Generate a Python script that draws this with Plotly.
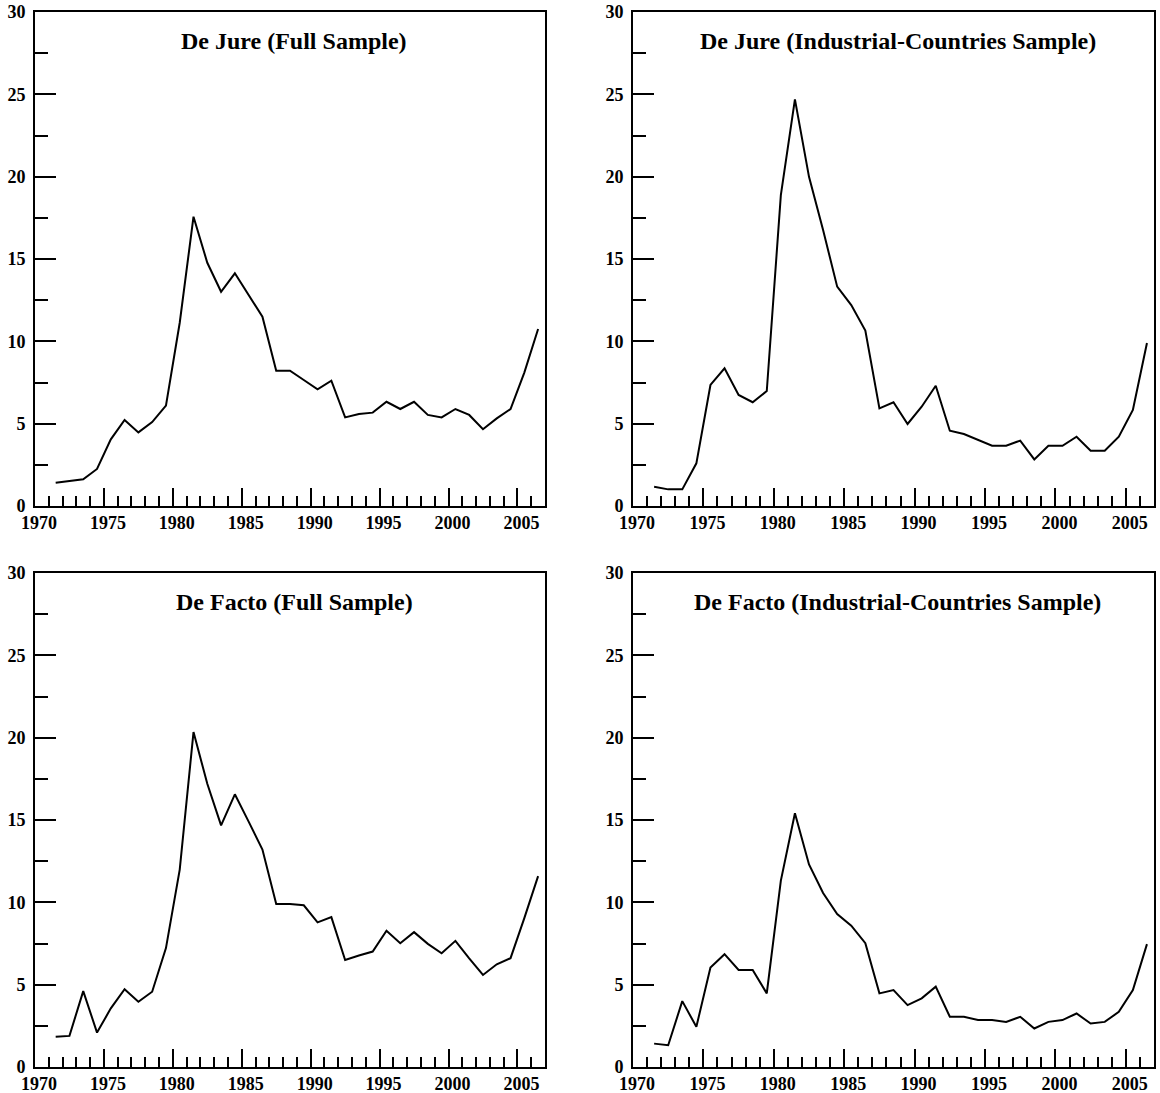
import plotly.graph_objects as go

years = list(range(1971, 2007))

dejure_full = [1.41, 1.50, 1.62, 2.25, 4.05, 5.22, 4.47, 5.10, 6.10, 11.13,
               17.57, 14.77, 13.01, 14.13, 12.81, 11.50, 8.22, 8.22, 7.65, 7.08,
               7.61, 5.38, 5.59, 5.67, 6.33, 5.89, 6.33, 5.53, 5.38, 5.89,
               5.53, 4.66, 5.32, 5.89, 8.10, 10.75]

dejure_ind = [1.17, 1.01, 1.01, 2.59, 7.35, 8.36, 6.74, 6.30, 6.98, 18.88,
              24.69, 19.99, 16.76, 13.32, 12.20, 10.65, 5.93, 6.30, 4.98, 6.03,
              7.30, 4.57, 4.37, 4.00, 3.66, 3.66, 3.97, 2.83, 3.66, 3.66,
              4.21, 3.36, 3.36, 4.21, 5.83, 9.90]

defacto_full = [1.83, 1.89, 4.61, 2.09, 3.56, 4.72, 3.96, 4.57, 7.22, 11.99,
                20.34, 17.20, 14.67, 16.56, 14.90, 13.21, 9.90, 9.90, 9.82, 8.78,
                9.10, 6.50, 6.77, 7.01, 8.27, 7.52, 8.19, 7.48, 6.91, 7.66,
                6.60, 5.59, 6.24, 6.61, 9.04, 11.59]

defacto_ind = [1.42, 1.32, 4.00, 2.44, 6.04, 6.85, 5.89, 5.89, 4.47, 11.32,
               15.41, 12.30, 10.57, 9.29, 8.58, 7.52, 4.47, 4.67, 3.76, 4.17,
               4.88, 3.05, 3.05, 2.85, 2.85, 2.74, 3.05, 2.34, 2.74, 2.85,
               3.25, 2.64, 2.74, 3.35, 4.67, 7.46]

titles = ["De Jure (Full Sample)",
          "De Jure (Industrial-Countries Sample)",
          "De Facto (Full Sample)",
          "De Facto (Industrial-Countries Sample)"]

series = [dejure_full, dejure_ind, defacto_full, defacto_ind]

W, H = 1160, 1093
# panel pixel boxes (left, right, top, bottom)
boxes = [(35, 545, 12, 506), (633, 1154, 12, 506),
         (35, 545, 573, 1067), (633, 1154, 573, 1067)]

XFONT = dict(family="Liberation Serif", size=18, color="black", weight="bold")
YFONT = dict(family="Liberation Serif", size=18, color="black", weight="bold")

fig = go.Figure()
layout = dict(width=W, height=H, margin=dict(l=0, r=0, t=0, b=0, autoexpand=False),
              paper_bgcolor="white", plot_bgcolor="white",
              showlegend=False, annotations=[])

# mid-year positions
xmid = [y + 0.5 for y in years]

for i, (vals, title, box) in enumerate(zip(series, titles, boxes)):
    n = "" if i == 0 else str(i + 1)
    fig.add_trace(go.Scatter(x=xmid, y=vals, mode="lines",
                             line=dict(color="black", width=2),
                             xaxis="x" + n, yaxis="y" + n,
                             hoverinfo="skip"))
    l, r, t, b = box
    layout["xaxis" + n] = dict(
        domain=[l / W, r / W], range=[1970, 2007], anchor="y" + n,
        automargin=False,
        showgrid=False, zeroline=False, showline=True, mirror=True,
        linecolor="black", linewidth=2,
        tick0=1970, dtick=5, ticks="inside", ticklen=18, tickwidth=2,
        tickcolor="black", tickfont=XFONT, ticklabelstandoff=-1,
        ticklabelshift=4,
        minor=dict(dtick=1, tick0=1970, ticks="inside", ticklen=10,
                   tickwidth=2, tickcolor="black", showgrid=False),
    )
    layout["yaxis" + n] = dict(
        domain=[1 - b / H, 1 - t / H], range=[0, 30], anchor="x" + n,
        automargin=False,
        showgrid=False, zeroline=False, showline=True, mirror=True,
        linecolor="black", linewidth=2,
        tick0=0, dtick=5, ticks="inside", ticklen=21, tickwidth=2,
        tickcolor="black", tickfont=YFONT, ticklabelstandoff=4,
        minor=dict(dtick=2.5, tick0=0, ticks="inside", ticklen=13,
                   tickwidth=2, tickcolor="black", showgrid=False),
    )
    layout["annotations"].append(dict(
        text=title, xref=("x" + n + " domain"), yref=("y" + n + " domain"),
        x=0.5, y=1 - 29 / (b - t), xanchor="center", yanchor="middle",
        xshift=4, showarrow=False,
        font=dict(family="Liberation Serif", size=24, color="black",
                  weight="bold")))

fig.update_layout(**layout)
fig.write_html("out.html")
